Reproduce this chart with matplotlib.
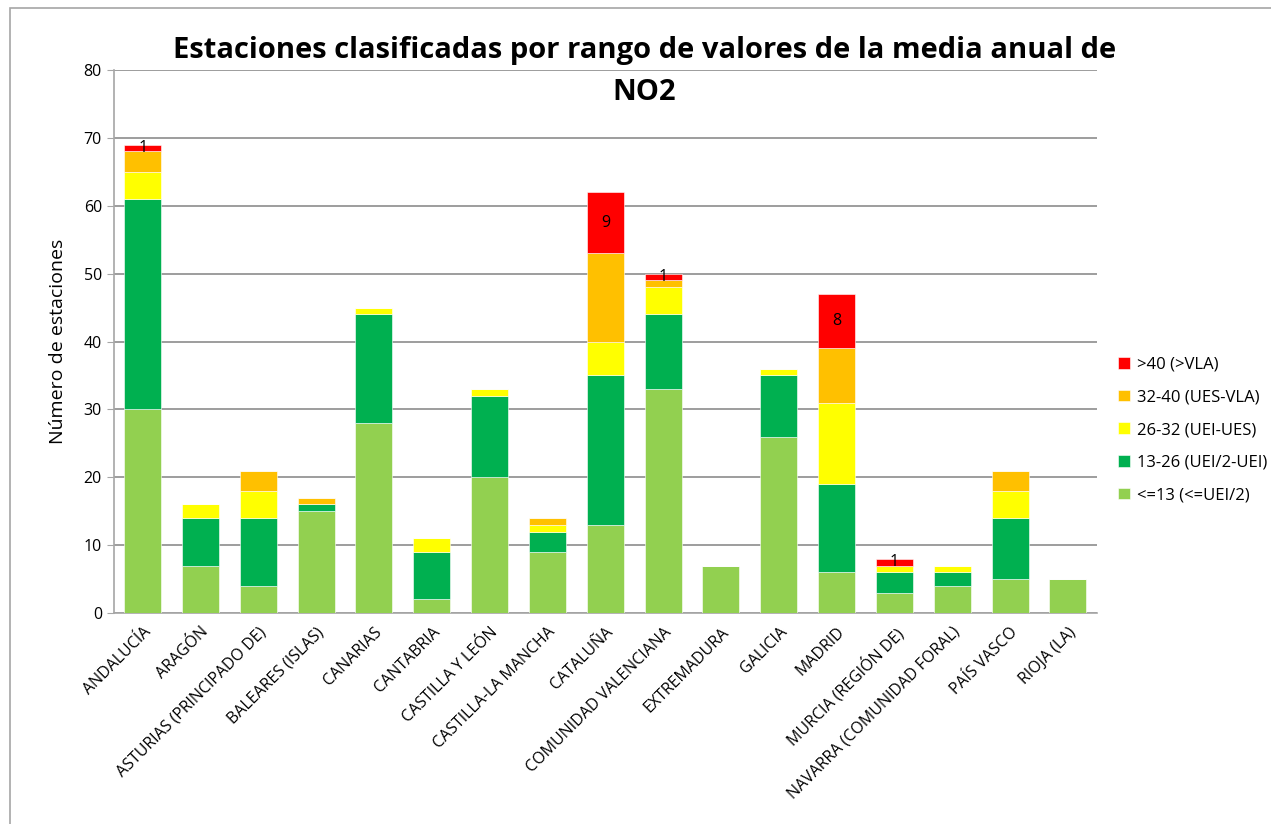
import numpy as np
import matplotlib
matplotlib.use('Agg')
import matplotlib.pyplot as plt
from matplotlib.patches import Rectangle

plt.rcParams['font.family'] = ['Open Sans', 'DejaVu Sans']

# datos: estaciones por comunidad y rango
comunidades = ['ANDALUCÍA', 'ARAGÓN', 'ASTURIAS (PRINCIPADO DE)', 'BALEARES (ISLAS)',
               'CANARIAS', 'CANTABRIA', 'CASTILLA Y LEÓN', 'CASTILLA-LA MANCHA',
               'CATALUÑA', 'COMUNIDAD VALENCIANA', 'EXTREMADURA', 'GALICIA', 'MADRID',
               'MURCIA (REGIÓN DE)', 'NAVARRA (COMUNIDAD FORAL)', 'PAÍS VASCO', 'RIOJA (LA)']
menor13 = [30, 7, 4, 15, 28, 2, 20, 9, 13, 33, 7, 26, 6, 3, 4, 5, 5]
r13_26 = [31, 7, 10, 1, 16, 7, 12, 3, 22, 11, 0, 9, 13, 3, 2, 9, 0]
r26_32 = [4, 2, 4, 0, 1, 2, 1, 1, 5, 4, 0, 1, 12, 1, 1, 4, 0]
r32_40 = [3, 0, 3, 1, 0, 0, 0, 1, 13, 1, 0, 0, 8, 0, 0, 3, 0]
mayor40 = [1, 0, 0, 0, 0, 0, 0, 0, 9, 1, 0, 0, 8, 1, 0, 0, 0]

series = [menor13, r13_26, r26_32, r32_40, mayor40]
nombres = ['<=13 (<=UEI/2)', '13-26 (UEI/2-UEI)', '26-32 (UEI-UES)',
           '32-40 (UES-VLA)', '>40 (>VLA)']
colores = ['#92D050', '#00B050', '#FFFF00', '#FFC000', '#FF0000']

fig = plt.figure(figsize=(12.71, 8.24), dpi=100)
ax = fig.add_axes([0.0895, 0.256, 0.7735, 0.659])

x = np.arange(len(comunidades))
base = np.zeros(len(comunidades))
for vals, nom, col in zip(series, nombres, colores):
    ax.bar(x, vals, bottom=base, width=0.64, color=col, label=nom,
           edgecolor='white', linewidth=0.4, zorder=3)
    base += np.array(vals)

# etiquetas solo en la serie >40
for xi, v, b0 in zip(x, mayor40, base - np.array(mayor40)):
    if v > 0:
        ax.text(xi, b0 + v / 2, str(v), ha='center', va='center', fontsize=11.5, zorder=4)

ax.set_xlim(-0.5, len(comunidades) - 0.5)
ax.set_ylim(0, 80)
ax.set_yticks(range(0, 81, 10))
ax.yaxis.grid(True, color='#8c8c8c', linewidth=1.2, zorder=0)
for s in ['top', 'right']:
    ax.spines[s].set_visible(False)
for s in ['left', 'bottom']:
    ax.spines[s].set_color('#a6a6a6')
    ax.spines[s].set_linewidth(1.2)
ax.tick_params(axis='y', labelsize=11.5, length=5, color='#a6a6a6')
ax.tick_params(axis='x', length=0, pad=8)
ax.set_xticks(x)
ax.set_xticklabels(comunidades, rotation=45, ha='right', rotation_mode='anchor', fontsize=11.5)
ax.set_ylabel('Número de estaciones', fontsize=14, labelpad=12)

h, l = ax.get_legend_handles_labels()
fig.legend(h[::-1], l[::-1], loc='center left', bbox_to_anchor=(0.868, 0.478),
           frameon=False, fontsize=12, handlelength=0.7, handleheight=0.7,
           labelspacing=1.0, handletextpad=0.4)

fig.text(0.507, 0.939, 'Estaciones clasificadas por rango de valores de la media anual de',
         ha='center', va='center', fontsize=21, fontweight='bold',
         bbox=dict(facecolor='white', edgecolor='none', pad=1), zorder=5)
fig.text(0.507, 0.888, 'NO2', ha='center', va='center', fontsize=21, fontweight='bold',
         bbox=dict(facecolor='white', edgecolor='none', pad=1), zorder=5)

# marco del gráfico
fig.patches.append(Rectangle((10 / 1271, -0.1), 1.2, 1 - 8 / 824 + 0.1,
                             transform=fig.transFigure, fill=False,
                             edgecolor='#a6a6a6', linewidth=1.2))

fig.savefig('out.png', dpi=100)
